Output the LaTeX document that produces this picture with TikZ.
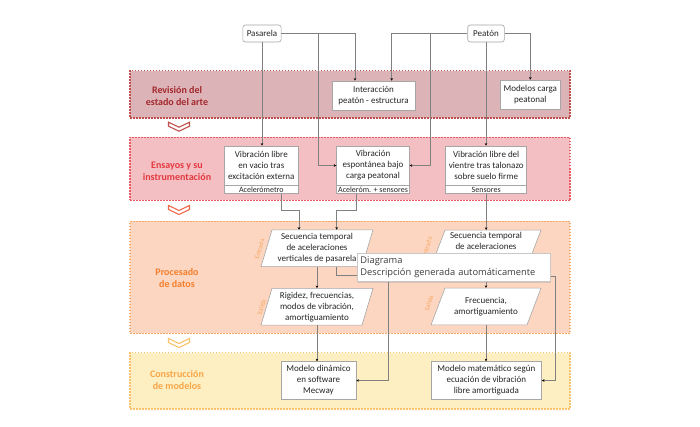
\documentclass[tikz,border=0pt]{standalone}
\usepackage{fontspec}
\setmainfont{Carlito}
\newfontfamily\tipfont{Open Sans}
\usetikzlibrary{calc,arrows.meta,shadows}
\definecolor{bAf}{HTML}{DCB4B8}
\definecolor{bAl}{HTML}{C0504D}
\definecolor{bAt}{HTML}{A3272C}
\definecolor{bBf}{HTML}{F4BFC3}
\definecolor{bBl}{HTML}{E85A64}
\definecolor{bBt}{HTML}{E2383E}
\definecolor{bCf}{HTML}{FCD6C0}
\definecolor{bCl}{HTML}{F8A765}
\definecolor{bCt}{HTML}{F47E2C}
\definecolor{bDf}{HTML}{FEEFC3}
\definecolor{bDl}{HTML}{F9C36E}
\definecolor{bDt}{HTML}{F8A547}
\definecolor{chB}{HTML}{F06A4A}
\definecolor{txtc}{HTML}{262626}
\definecolor{boxline}{HTML}{A6A6A6}
\definecolor{connc}{HTML}{808080}
\definecolor{tipline}{HTML}{C8C8C8}
\definecolor{tiptext}{HTML}{3C3C3C}
\newcommand\pshape[4]{\draw[parashape] ({#1-#3/2-#4/2},{#2+18.35}) -- ({#1-#3/2+#4/2},{#2-18.35}) -- ({#1+#3/2+#4/2},{#2-18.35}) -- ({#1+#3/2-#4/2},{#2+18.35}) -- cycle;}
\begin{document}
\begin{tikzpicture}[x=1pt,y=-1pt,
  txt/.style={font=\fontsize{9}{11}\selectfont, text=txtc, align=center},
  box/.style={txt, draw=boxline, fill=white, line width=0.6pt, inner sep=1pt},
  subbox/.style={box, font=\fontsize{8}{8}\selectfont, minimum height=7.7, inner ysep=0.3pt},
  topbox/.style={box, rounded corners=2.5pt},
  band/.style={line width=1.2pt, dash pattern=on 1.6pt off 1.4pt},
  bandlabel/.style={font=\fontsize{10}{11.7}\selectfont\bfseries, align=center},
  parashape/.style={draw=boxline, fill=white, line width=0.6pt},
  paratext/.style={txt, inner sep=0pt, minimum height=36.7},
  iolabel/.style={font=\fontsize{6.5}{7}\selectfont, text=bCl, rotate=73, inner sep=0pt},
  conn/.style={draw=connc, line width=0.55pt, -{Stealth[length=2.6pt,width=2.6pt,black]}},
  line/.style={draw=connc, line width=0.55pt},
  tip/.style={draw=tipline, fill=white, line width=0.5pt, align=left, text=tiptext,
    font=\tipfont\fontsize{9.3}{12}\selectfont, text width=186pt, inner xsep=3.5pt,
    minimum height=28.4, drop shadow={shadow xshift=1.2pt, shadow yshift=-1.2pt, opacity=0.25}},
  chevron/.pic={\draw[line width=1.1pt, fill=white, line join=miter]
    (-10.5,-4.5) -- (0,0.5) -- (10.5,-4.5) -- (10.5,-0.5) -- (0,4.5) -- (-10.5,-0.5) -- cycle;}
]
\fill[white] (0,0) rectangle (700,427);
\useasboundingbox (0,0) rectangle (700,427);

% bands
\node[band, fill=bAf, draw=bAl, minimum width=440, minimum height=47.3] (b1) at (350,94.35) {};
\node[band, fill=bBf, draw=bBl, minimum width=440, minimum height=63] (b2) at (350,169) {};
\node[band, fill=bCf, draw=bCl, minimum width=440, minimum height=111.8] (b3) at (350,277.4) {};
\node[band, fill=bDf, draw=bDl, minimum width=440, minimum height=56.3] (b4) at (350,380.85) {};

\node[bandlabel, text=bAt] (l1) at (177,96) {Revisión del\\estado del arte};
\node[bandlabel, text=bBt] (l2) at (177,171) {Ensayos y su\\instrumentación};
\node[bandlabel, text=bCt] (l3) at (177,278) {Procesado\\de datos};
\node[bandlabel, text=bDt] (l4) at (177,380) {Construcción\\de modelos};

\pic[color=bAl] at (179,126.7) {chevron};
\pic[color=chB] at (179,210) {chevron};
\pic[color=bDl] at (179,343) {chevron};

% top boxes
\node[topbox, minimum width=38.3, minimum height=17] (pas) at (262,33.5) {Pasarela};
\node[topbox, minimum width=36.6, minimum height=17] (peat) at (486,33.5) {Peatón};

% band 1 boxes
\node[box, minimum width=83, minimum height=29] (inter) at (373.5,95.5) {Interacción\\peatón - estructura};
\node[box, minimum width=60.7, minimum height=29] (mod) at (530.3,94.5) {Modelos carga\\peatonal};

% band 2 boxes
\node[box, minimum width=74, minimum height=39] (v1) at (261.3,165.5) {Vibración libre\\en vacio tras\\excitación externa};
\node[subbox, minimum width=74, anchor=north] (v1s) at (v1.south) {Acelerómetro};
\node[box, minimum width=72.6, minimum height=39] (v2) at (373,165.5) {Vibración\\espontánea bajo\\carga peatonal};
\node[subbox, minimum width=72.6, anchor=north] (v2s) at (v2.south) {Aceleróm. + sensores};
\node[box, minimum width=81, minimum height=39] (v3) at (486.2,165.5) {Vibración libre del\\vientre tras talonazo\\sobre suelo firme};
\node[subbox, minimum width=81, anchor=north] (v3s) at (v3.south) {Sensores};

% band 3 parallelograms
\pshape{317}{248.3}{101}{11}
\node[paratext, minimum width=101] (p1) at (317,248.3) {Secuencia temporal\\de aceleraciones\\verticales de pasarela};
\pshape{317}{306.7}{101}{11}
\node[paratext, minimum width=101] (p2) at (317,306.7) {Rigidez, frecuencias,\\modos de vibración,\\amortiguamiento};
\pshape{486}{248.5}{96}{14}
\node[paratext, minimum width=96] (p3) at (486,248.5) {Secuencia temporal\\de aceleraciones\\\strut};
\pshape{486}{306.5}{96}{14}
\node[paratext, minimum width=96] (p4) at (486,306.5) {Frecuencia,\\amortiguamiento};

\node[iolabel] (e1) at (259.5,249) {Entrada};
\node[iolabel] (s1) at (261.5,307) {Salida};
\node[iolabel] (e2) at (427,247) {Entrada};
\node[iolabel] (s2) at (429,303) {Salida};

% band 4 boxes
\node[box, minimum width=75, minimum height=37.6] (md) at (318.5,380.5) {Modelo dinámico\\en software\\Mecway};
\node[box, minimum width=110.7, minimum height=37.6] (mm) at (486.3,380.5) {Modelo matemático según\\ecuación de vibración\\libre amortiguada};

% junctions
\coordinate (j1) at (318,33.5);
\coordinate (j2) at (430,33.5);
\coordinate (k1) at (388.3,275.7);
\coordinate (k2) at (555,276);

% connectors
\draw[conn] (pas.east) -| ($(inter.north)+(-18.5,0)$);
\draw[conn] (peat.west) -| ($(inter.north)+(18.2,0)$);
\draw[conn] (peat.east) -| (mod.north);
\draw[conn] (pas.south) -- (pas.south |- v1.north);
\draw[conn] (peat.south) -- (peat.south |- v3.north);
\draw[conn] (j1) |- (v2.west);
\draw[conn] (j2) |- (v2.east);
\draw[conn] ($(v1s.south)+(19.7,0)$) -- ++(0,16.6) -| ($(p1.north)+(-18,0)$);
\draw[conn] ($(v2s.south)+(-17,0)$) -- ++(0,16.6) -| ($(p1.north)+(19.7,0)$);
\draw[conn] (v3s.south) -- (v3s.south |- p3.north);
\draw[conn] (p1.south) -- (p2.north);
\draw[conn] (p3.south) -- (p4.north);
\draw[conn] (p2.south) -- (p2.south |- md.north);
\draw[conn] (p4.south) -- (p4.south |- mm.north);
\draw[line] ($(p1.south)+(19.7,0)$) |- (k1);
\draw[conn] (k1) |- (md.east);
\draw[line] ($(p3.south)+(20,0)$) |- (k2);
\draw[conn] (k2) |- (mm.east);

% tooltip overlay
\node[tip, anchor=west] (tt) at (356.7,267.5) {Diagrama\\Descripción generada automáticamente};
\end{tikzpicture}
\end{document}
